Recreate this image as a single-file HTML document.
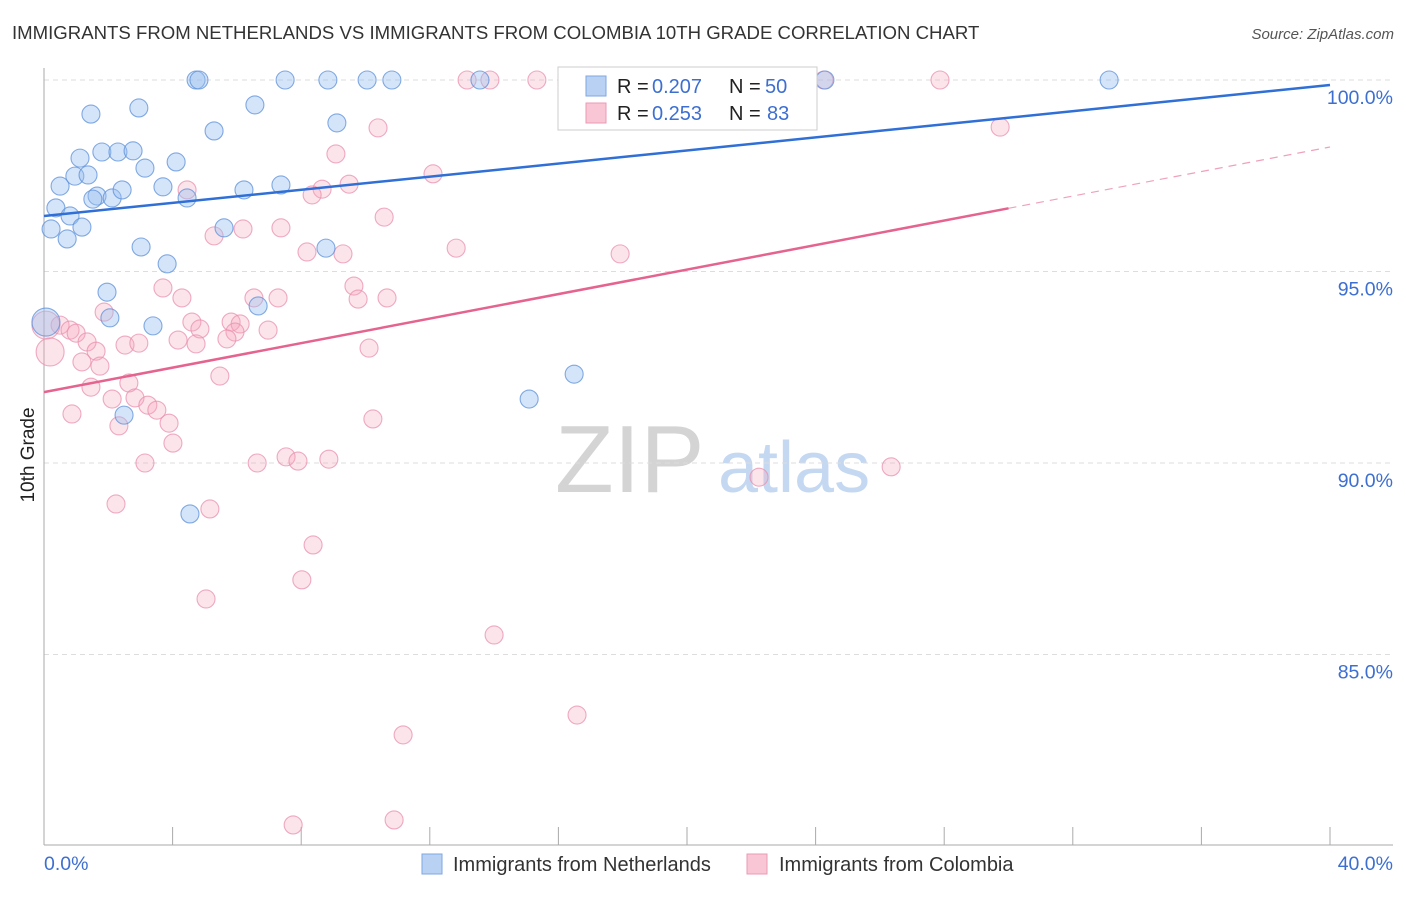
<!DOCTYPE html>
<html><head><meta charset="utf-8"><style>
body{margin:0;background:#fff;font-family:"Liberation Sans",sans-serif;}
svg text{font-family:"Liberation Sans",sans-serif;}
</style></head><body>
<svg id="c" width="1406" height="892" viewBox="0 0 1406 892">
<text x="12" y="39" font-size="18.6" fill="#333">IMMIGRANTS FROM NETHERLANDS VS IMMIGRANTS FROM COLOMBIA 10TH GRADE CORRELATION CHART</text>
<text x="1394" y="39" font-size="15" fill="#555" font-style="italic" text-anchor="end">Source: ZipAtlas.com</text>
<g>
<text x="555" y="492" font-size="96" fill="#d4d4d4" font-family="Liberation Serif">ZIP</text>
<text x="718" y="492" font-size="72" fill="#c5d8f2">atlas</text>
</g>
<g id="grid"></g>
<g id="pts"></g>
<g id="lines"></g>
<text x="0" y="0" transform="translate(34,455) rotate(-90)" font-size="19" fill="#222" text-anchor="middle">10th Grade</text>
<g>
<rect x="558" y="67" width="259" height="63" fill="#fff" stroke="#ccc"/>
<rect x="586" y="76" width="20" height="20" fill="#b9d2f3" stroke="#7fa7e0"/>
<text x="617" y="93" font-size="20" fill="#222">R =</text>
<text x="652" y="93" font-size="20" fill="#3d6fd1">0.207</text>
<text x="729" y="93" font-size="20" fill="#222">N =</text>
<text x="765" y="93" font-size="20" fill="#3d6fd1">50</text>
<rect x="586" y="103" width="20" height="20" fill="#f8c6d5" stroke="#eb9ab4"/>
<text x="617" y="120" font-size="20" fill="#222">R =</text>
<text x="652" y="120" font-size="20" fill="#3d6fd1">0.253</text>
<text x="729" y="120" font-size="20" fill="#222">N =</text>
<text x="767" y="120" font-size="20" fill="#3d6fd1">83</text>
</g>
<g>
<rect x="422" y="854" width="20" height="20" fill="#b9d2f3" stroke="#7fa7e0"/>
<text x="453" y="871" font-size="20" fill="#333">Immigrants from Netherlands</text>
<rect x="747" y="854" width="20" height="20" fill="#f8c6d5" stroke="#eb9ab4"/>
<text x="779" y="871" font-size="20" fill="#333">Immigrants from Colombia</text>
</g>
</svg>
<script>
const yTicks=[100,95,90,85];
const xTickLabels=["0.0%","40.0%"];
const blueX=[4.73,4.82,7.50,8.83,10.05,10.82,13.56,24.29,33.13,23.76,1.46,2.95,6.56,5.29,9.11,1.12,1.80,2.30,2.77,4.11,3.14,0.50,0.96,1.37,1.65,1.52,2.12,2.43,3.70,4.45,6.22,7.37,0.37,0.81,0.22,0.72,1.18,5.60,3.02,3.83,8.77,1.96,2.05,3.39,6.66,0.06,2.49,4.54,15.09,16.49];
const blueY=[100,100,100,100,100,100,100,100,100,100,99.11,99.27,99.35,98.67,98.88,97.96,98.12,98.12,98.15,97.86,97.70,97.23,97.49,97.52,96.97,96.89,96.92,97.13,97.21,96.92,97.13,97.26,96.66,96.45,96.11,95.85,96.16,96.14,95.64,95.20,95.61,94.46,93.79,93.58,94.10,93.68,91.25,88.67,91.67,92.32];
const pinkX=[13.16,13.87,15.33,20.81,27.87,24.26,10.39,29.74,9.08,12.10,4.45,8.65,8.34,9.49,10.58,5.29,6.19,7.37,12.82,17.92,8.18,9.30,3.70,4.29,6.53,7.28,9.64,9.77,10.67,1.87,4.60,4.85,5.82,6.10,6.97,5.94,0.50,0.81,1.00,0.19,1.34,1.62,2.52,2.95,4.17,4.73,5.69,10.11,1.18,1.74,2.64,5.47,1.46,2.12,2.83,3.23,3.51,3.89,4.01,2.33,0.87,3.14,6.63,7.53,7.90,8.86,10.23,26.35,22.24,2.24,5.16,8.37,8.02,5.04,14.00,16.58,11.17,7.75,10.89,0.06];
const pinkY=[100,100,100,100,100,100,98.75,98.77,98.07,97.55,97.13,97.15,97.00,97.28,96.42,95.93,96.11,96.14,95.61,95.46,95.51,95.46,94.57,94.31,94.31,94.31,94.62,94.28,94.31,93.94,93.68,93.50,93.68,93.63,93.47,93.42,93.60,93.47,93.39,92.90,93.16,92.92,93.08,93.13,93.21,93.11,93.24,93.00,92.64,92.53,92.09,92.27,91.98,91.67,91.70,91.51,91.38,91.04,90.52,90.97,91.28,90.00,90.00,90.16,90.05,90.10,91.15,89.90,89.63,88.93,88.80,87.86,86.95,86.45,85.51,83.42,82.90,80.55,80.68,93.60];
const blueBig=[45];
const pinkBig=[39,79];
const blueTrend=[96.45,99.87];
const pinkTrend=[91.85,98.25];
const pinkSolidEnd=30;
const X=v=>44+v*32.15, Y=v=>80+(100-v)*38.3;
const NS="http://www.w3.org/2000/svg";
function mk(t,a,p){const e=document.createElementNS(NS,t);for(const k in a)e.setAttribute(k,a[k]);p.appendChild(e);return e;}
const grid=document.getElementById('grid');
yTicks.forEach(t=>{
const l=mk('line',{x1:44,x2:1393,y1:Y(t),y2:Y(t),stroke:'#ddd','stroke-dasharray':'5,4'},grid);


const tx=mk('text',{x:1393,y:Y(t)+24,'font-size':19.5,fill:'#3d6fd1','text-anchor':'end'},grid);
tx.textContent=t.toFixed(1)+'%';


});
const ax=mk('line',{x1:44,x2:1393,y1:845,y2:845,stroke:'#aaa'},grid);


const ay=mk('line',{x1:44,x2:44,y1:68,y2:845,stroke:'#aaa'},grid);


for(let i=1;i<=10;i++){const t=mk('line',{x1:X(i*4),x2:X(i*4),y1:827,y2:845,stroke:'#aaa'},grid);

}
[[0,'start',44],[40,'end',1393]].forEach((d,i)=>{const t=mk('text',{x:d[2],y:870,'font-size':19.5,fill:'#3d6fd1','text-anchor':d[1]},grid);t.textContent=xTickLabels[i];

});
const pts=document.getElementById('pts');
function draw(xs,ys,big,fill,stroke,name){xs.forEach((x,i)=>{const b=big.includes(i);const c=mk('circle',{cx:X(x),cy:Y(ys[i]),r:b?14:9,fill:fill,stroke:stroke,'stroke-width':1.1,'stroke-opacity':0.75},pts);

});}
draw(pinkX,pinkY,pinkBig,'rgba(245,165,190,0.3)','#ea8fad','point-colombia');
draw(blueX,blueY,blueBig,'rgba(150,190,240,0.4)','#5b8fd9','point-netherlands');
const lines=document.getElementById('lines');
const bl=mk('line',{x1:X(0),y1:Y(blueTrend[0]),x2:X(40),y2:Y(blueTrend[1]),stroke:'#2f6fd6','stroke-width':2.5},lines);


const pm=pinkTrend[0]+(pinkTrend[1]-pinkTrend[0])*pinkSolidEnd/40;
const pl=mk('line',{x1:X(0),y1:Y(pinkTrend[0]),x2:X(pinkSolidEnd),y2:Y(pm),stroke:'#e5638f','stroke-width':2.5},lines);


const pd=mk('line',{x1:X(pinkSolidEnd),y1:Y(pm),x2:X(40),y2:Y(pinkTrend[1]),stroke:'#e5638f','stroke-width':1.2,'stroke-dasharray':'8,6',opacity:0.6},lines);


</script>
</body></html>
